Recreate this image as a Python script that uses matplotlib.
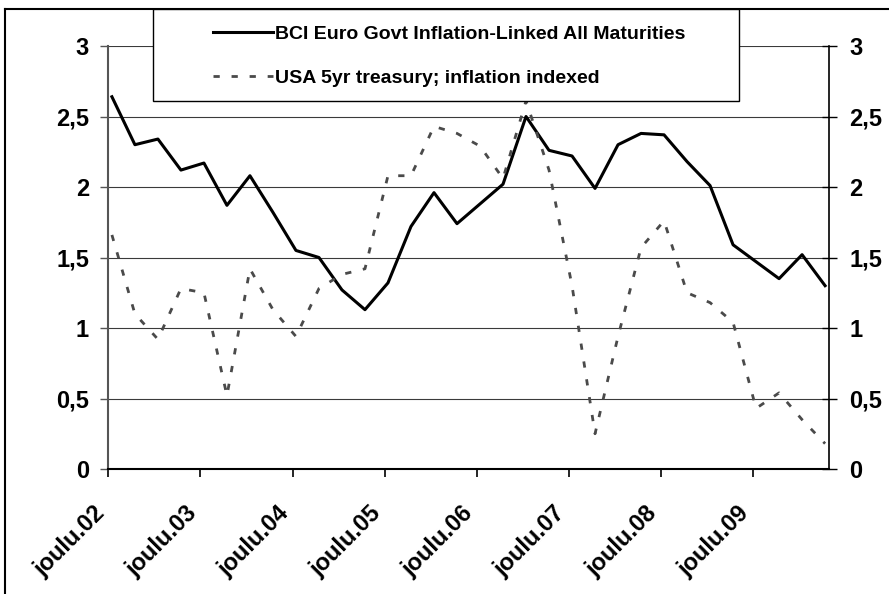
import matplotlib
matplotlib.use('Agg')
import matplotlib.pyplot as plt
from matplotlib.patches import Rectangle
from matplotlib.lines import Line2D
from matplotlib.ticker import FuncFormatter
from matplotlib.transforms import ScaledTranslation

plt.rcParams['font.family'] = ['Liberation Sans', 'DejaVu Sans']
plt.rcParams['font.weight'] = 'bold'
plt.rcParams['lines.scale_dashes'] = False

# quarterly observations, dec 2002 .. sep 2010
tick_labels = ['joulu.02', 'joulu.03', 'joulu.04', 'joulu.05',
               'joulu.06', 'joulu.07', 'joulu.08', 'joulu.09']
euro = [2.64, 2.30, 2.34, 2.12, 2.17, 1.87, 2.08, 1.82,
        1.55, 1.50, 1.27, 1.13, 1.32, 1.72, 1.96, 1.74,
        1.88, 2.02, 2.50, 2.26, 2.22, 1.99, 2.30, 2.38,
        2.37, 2.18, 2.01, 1.59, 1.47, 1.35, 1.52, 1.30]
usa = [1.66, 1.10, 0.92, 1.28, 1.25, 0.52, 1.42, 1.13,
       0.94, 1.28, 1.38, 1.42, 2.08, 2.08, 2.43, 2.38,
       2.29, 2.06, 2.61, 2.12, 1.30, 0.25, 0.94, 1.57,
       1.76, 1.25, 1.18, 1.04, 0.43, 0.54, 0.35, 0.18]
euro_name = 'BCI Euro Govt Inflation-Linked All Maturities'
usa_name = 'USA 5yr treasury; inflation indexed'

W, H = 889, 594
fig = plt.figure(figsize=(W/100, H/100), dpi=100)
ax = fig.add_axes([108/W, (H-469)/H, 721/W, 423/H])

x = list(range(len(euro)))
l1, = ax.plot(x, euro, color='black', lw=2.2)
l2, = ax.plot(x, usa, color='#4a4a4a', lw=2.0, dashes=(4.5, 8.5))

ax.set_xlim(-0.17, 31.17)
ax.set_ylim(0, 3)
yt = [0, 0.5, 1, 1.5, 2, 2.5, 3]
fmt = FuncFormatter(lambda v, p: ('%g' % v).replace('.', ','))
ax.set_yticks(yt)
ax.yaxis.set_major_formatter(fmt)
ax.grid(axis='y', color='#3a3a3a', lw=0.8)
ax.set_axisbelow(True)

ax.set_xticks([4*k - 0.15 for k in range(len(tick_labels))])
ax.set_xticklabels(tick_labels, rotation=45, ha='right', va='center',
                   rotation_mode='anchor')
ax.tick_params(axis='x', length=5.8, width=1.2, pad=26, labelsize=17)
ax.tick_params(axis='y', length=5.8, width=1.0, pad=7.9, labelsize=17,
               color='#555555')
shift = ScaledTranslation(-7/100, 3/100, fig.dpi_scale_trans)
for lab in ax.get_xticklabels():
    lab.set_transform(lab.get_transform() + shift)

ax.spines['top'].set_visible(False)
ax.spines['right'].set_visible(False)
ax.spines['left'].set_color('#555555')
ax.spines['left'].set_linewidth(1.5)
ax.spines['bottom'].set_linewidth(1.5)

ax2 = ax.twinx()
ax2.set_ylim(0, 3)
ax2.set_yticks(yt)
ax2.yaxis.set_major_formatter(fmt)
ax2.tick_params(axis='y', direction='inout', length=10.8, width=1.0,
                pad=9, labelsize=17)
for s in ['top', 'left', 'bottom']:
    ax2.spines[s].set_visible(False)
ax2.spines['right'].set_linewidth(1.2)

# legend box
fig.add_artist(Rectangle((153/W, (H-101)/H), 586/W, 92/H,
                         transform=fig.transFigure, facecolor='white',
                         edgecolor='black', lw=1.0, zorder=3))
fig.legend([l1, l2], [euro_name, usa_name], loc='upper left',
           bbox_to_anchor=(213/W, (H-25)/H), bbox_transform=fig.transFigure,
           frameon=False, borderpad=0, borderaxespad=0, fontsize=14,
           handlelength=60/19.4, handletextpad=2/19.4, labelspacing=1.39)

# outer chart border (left and top edge)
fig.add_artist(Line2D([5/W, 5/W], [0, (H-9)/H], transform=fig.transFigure,
                      color='black', lw=1.5))
fig.add_artist(Line2D([5/W, 1], [(H-9)/H, (H-9)/H], transform=fig.transFigure,
                      color='black', lw=1.5))

fig.savefig('out.png', dpi=100)
